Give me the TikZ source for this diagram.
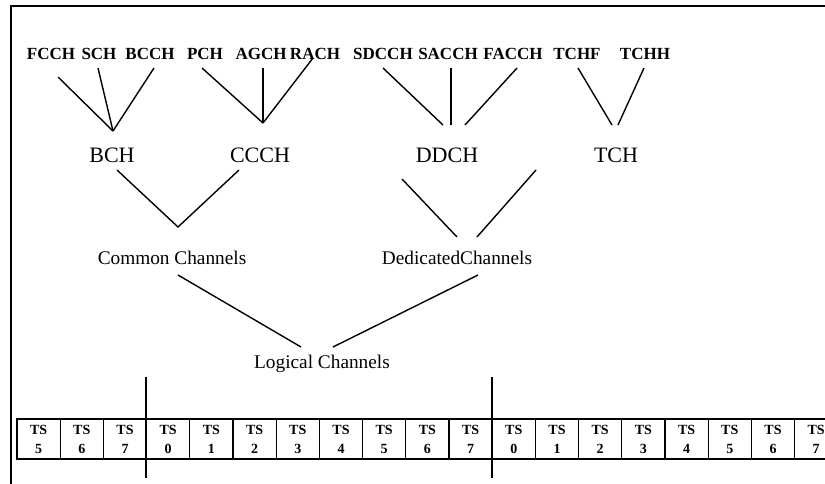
\documentclass[tikz,border=0pt]{standalone}
\usepackage{fontspec}
\setmainfont{Liberation Serif}
\begin{document}
\begin{tikzpicture}[x=1pt,y=-1pt,
  lbl/.style={inner sep=0pt,font=\fontsize{17}{20}\selectfont\bfseries},
  mid/.style={inner sep=0pt,font=\fontsize{22}{24}\selectfont},
  grp/.style={inner sep=0pt,font=\fontsize{19.3}{22}\selectfont},
  link/.style={line width=1.4pt},
  slot/.style={draw,line width=1.2pt,minimum width=43.2pt,minimum height=40pt,
    inner sep=0pt,align=center,font=\fontsize{14}{19}\selectfont\bfseries},
  sep/.style={line width=1.8pt}]
\useasboundingbox (0,0) rectangle (825,483);
\fill[white] (0,0) rectangle (825,483);
% outer frame (left and top edges)
\draw[line width=2pt] (830,6) -- (11,6) -- (11,490);

% sub-channels
\node[lbl] (fcch)  at (51,54)  {FCCH};
\node[lbl] (sch)   at (99,54)  {SCH};
\node[lbl] (bcch)  at (150,54) {BCCH};
\node[lbl] (pch)   at (205,54) {PCH};
\node[lbl] (agch)  at (261,54) {AGCH};
\node[lbl] (rach)  at (315,54) {RACH};
\node[lbl] (sdcch) at (383,54) {SDCCH};
\node[lbl] (sacch) at (448,54) {SACCH};
\node[lbl] (facch) at (513,54) {FACCH};
\node[lbl] (tchf)  at (577,54) {TCHF};
\node[lbl] (tchh)  at (645,54) {TCHH};

% channel groups
\node[mid] (bch)  at (112,155) {BCH};
\node[mid] (ccch) at (260,155) {CCCH};
\node[mid] (ddch) at (447,155) {DDCH};
\node[mid] (tch)  at (616,155) {TCH};

\node[grp] (common)    at (172,258) {Common Channels};
\node[grp] (dedicated) at (457,258) {DedicatedChannels};
\node[grp,anchor=base] (logical) at (322,368) {Logical Channels};

% line end points
\coordinate (j-bch)  at (113,131);
\coordinate (j-ccch) at (263,123);
\coordinate (fcch-e)  at (58,77);
\coordinate (sch-e)   at (98,68);
\coordinate (bcch-e)  at (154,68);
\coordinate (pch-e)   at (202,68);
\coordinate (agch-e)  at (263,68);
\coordinate (rach-e)  at (313,58);
\coordinate (sdcch-e) at (383,68);
\coordinate (sacch-e) at (451,68);
\coordinate (facch-e) at (517,68);
\coordinate (tchf-e)  at (578,68);
\coordinate (tchh-e)  at (644,68);
\coordinate (d1) at (443,125);
\coordinate (d2) at (451,125);
\coordinate (d3) at (465,125);
\coordinate (t1) at (612,125);
\coordinate (t2) at (618,125);

\draw[link] (fcch-e) -- (j-bch);
\draw[link] (sch-e) -- (j-bch);
\draw[link] (bcch-e) -- (j-bch);
\draw[link] (pch-e) -- (j-ccch);
\draw[link] (agch-e) -- (j-ccch);
\draw[link] (rach-e) -- (j-ccch);
\draw[link] (sdcch-e) -- (d1);
\draw[link] (sacch-e) -- (d2);
\draw[link] (facch-e) -- (d3);
\draw[link] (tchf-e) -- (t1);
\draw[link] (tchh-e) -- (t2);

\coordinate (bch-s)  at (117,170);
\coordinate (ccch-s) at (239,170);
\coordinate (j-common) at (178,227);
\coordinate (ddch-s) at (402,179);
\coordinate (tch-s)  at (536,170);
\coordinate (dd1) at (457,237);
\coordinate (dd2) at (477,237);
\draw[link] (bch-s) -- (j-common) -- (ccch-s);
\draw[link] (ddch-s) -- (dd1);
\draw[link] (tch-s) -- (dd2);

\coordinate (common-s) at (178,275);
\coordinate (dedicated-s) at (478,275);
\coordinate (lg1) at (301,347);
\coordinate (lg2) at (333,347);
\draw[link] (common-s) -- (lg1);
\draw[link] (dedicated-s) -- (lg2);

% time slots
\foreach \n [count=\i from 0] in {5,6,7,0,1,2,3,4,5,6,7,0,1,2,3,4,5,6,7}
  \node[slot] (cell\i) at ({17+43.2*(\i+0.5)},439) {TS\\\n};

% frame boundaries
\draw[sep] ([yshift=41pt]cell3.north west) -- ([yshift=-18pt]cell3.south west);
\draw[sep] ([yshift=41pt]cell11.north west) -- ([yshift=-18pt]cell11.south west);
\end{tikzpicture}
\end{document}
